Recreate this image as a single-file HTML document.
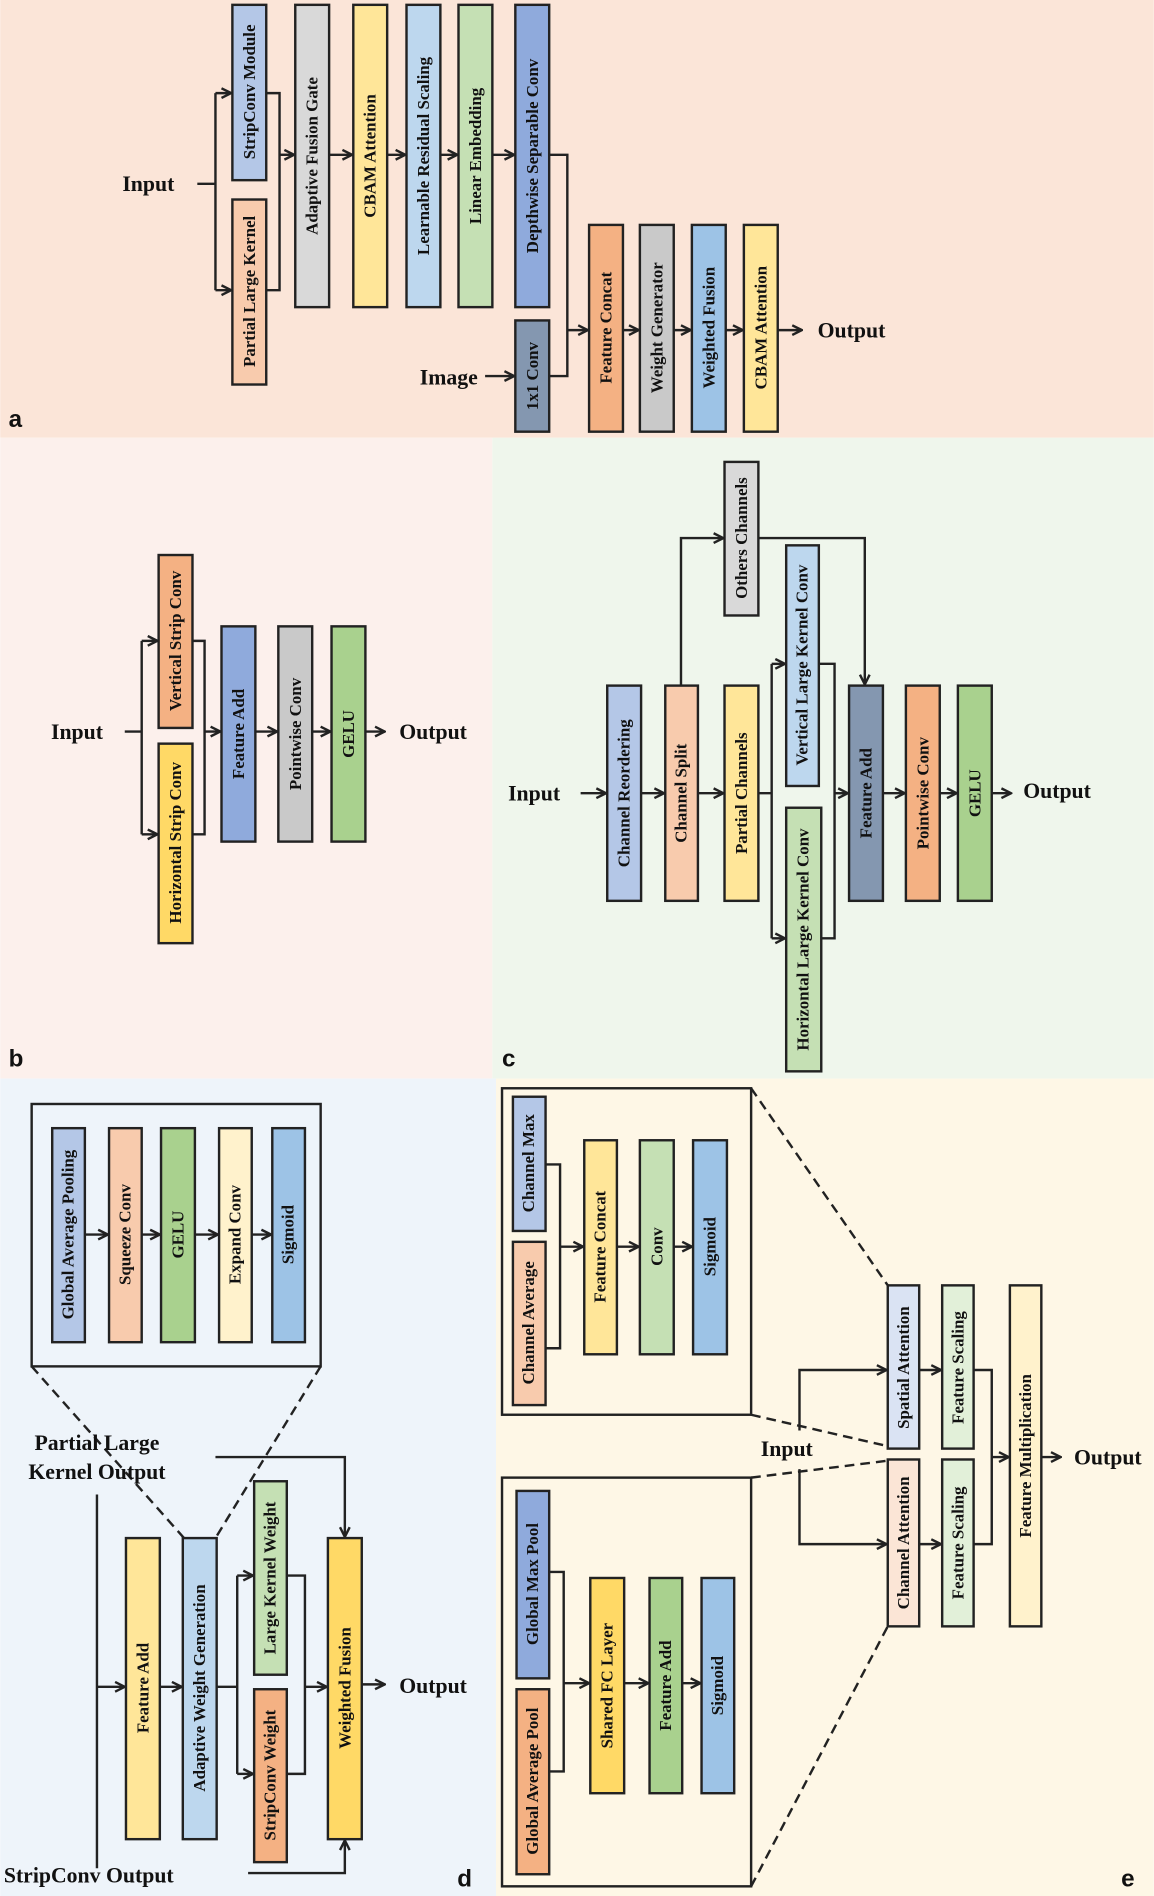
<!DOCTYPE html>
<html><head><meta charset="utf-8"><style>
html,body{margin:0;padding:0;}
svg{display:block;}
text{font-family:"Liberation Serif",serif;font-weight:bold;fill:#111;}
.b{font-size:14px;}
.t{font-size:18px;}
.lab{font-family:"Liberation Sans",sans-serif;font-size:20px;}
rect.x{stroke:#222;stroke-width:2;}
.l{fill:none;stroke:#222;stroke-width:2;}
.d{fill:none;stroke:#222;stroke-width:2;stroke-dasharray:8,5;}
</style></head><body>
<svg width="1154" height="1896" viewBox="0 0 954 1568" xmlns="http://www.w3.org/2000/svg">
<defs><marker id="a" markerWidth="10" markerHeight="10" refX="9" refY="5" orient="auto" markerUnits="userSpaceOnUse"><path d="M1,1 L9,5 L1,9" fill="none" stroke="#222" stroke-width="2"/></marker></defs>
<rect x="0" y="0" width="954" height="362" fill="#fbe5d8"/>
<rect x="0" y="362" width="407" height="530" fill="#fcf0ec"/>
<rect x="407" y="362" width="547" height="530" fill="#eff6ec"/>
<rect x="0" y="892" width="410" height="676" fill="#eef4fa"/>
<rect x="410" y="892" width="544" height="676" fill="#fef7e6"/>

<!-- Panel a -->
<g>
<rect class="x" x="192" y="4" width="28" height="145" fill="#b4c7e7"/><text class="b" transform="translate(206,76) rotate(-90)" text-anchor="middle" dominant-baseline="central">StripConv Module</text>
<rect class="x" x="192" y="165" width="28" height="153" fill="#f8cbad"/><text class="b" transform="translate(206,241) rotate(-90)" text-anchor="middle" dominant-baseline="central">Partial Large Kernel</text>
<rect class="x" x="244" y="4" width="28" height="250" fill="#d9d9d9"/><text class="b" transform="translate(258,129) rotate(-90)" text-anchor="middle" dominant-baseline="central">Adaptive Fusion Gate</text>
<rect class="x" x="292" y="4" width="28" height="250" fill="#ffe699"/><text class="b" transform="translate(306,129) rotate(-90)" text-anchor="middle" dominant-baseline="central">CBAM  Attention</text>
<rect class="x" x="336" y="4" width="28" height="250" fill="#bdd7ee"/><text class="b" transform="translate(350,129) rotate(-90)" text-anchor="middle" dominant-baseline="central">Learnable Residual Scaling</text>
<rect class="x" x="379" y="4" width="28" height="250" fill="#c5e0b4"/><text class="b" transform="translate(393,129) rotate(-90)" text-anchor="middle" dominant-baseline="central">Linear Embedding</text>
<rect class="x" x="426" y="4" width="28" height="250" fill="#8faadc"/><text class="b" transform="translate(440,129) rotate(-90)" text-anchor="middle" dominant-baseline="central">Depthwise Separable Conv</text>
<rect class="x" x="426" y="265" width="28" height="92" fill="#8497b0"/><text class="b" transform="translate(440,311) rotate(-90)" text-anchor="middle" dominant-baseline="central">1x1 Conv</text>
<rect class="x" x="487" y="186" width="28" height="171" fill="#f4b183"/><text class="b" transform="translate(501,271) rotate(-90)" text-anchor="middle" dominant-baseline="central">Feature Concat</text>
<rect class="x" x="529" y="186" width="28" height="171" fill="#c9c9c9"/><text class="b" transform="translate(543,271) rotate(-90)" text-anchor="middle" dominant-baseline="central">Weight Generator</text>
<rect class="x" x="572" y="186" width="28" height="171" fill="#9dc3e6"/><text class="b" transform="translate(586,271) rotate(-90)" text-anchor="middle" dominant-baseline="central">Weighted Fusion</text>
<rect class="x" x="615" y="186" width="28" height="171" fill="#ffe699"/><text class="b" transform="translate(629,271) rotate(-90)" text-anchor="middle" dominant-baseline="central">CBAM  Attention</text>
<text class="t" x="101" y="158">Input</text>
<path class="l" d="M163,152 H178 M178,77 V240"/>
<path class="l" marker-end="url(#a)" d="M178,77 H191"/>
<path class="l" marker-end="url(#a)" d="M178,240 H191"/>
<path class="l" d="M220,77 H231 V240 H220"/>
<path class="l" marker-end="url(#a)" d="M231,128 H243"/>
<path class="l" marker-end="url(#a)" d="M272,128 H291"/>
<path class="l" marker-end="url(#a)" d="M320,128 H335"/>
<path class="l" marker-end="url(#a)" d="M364,128 H378"/>
<path class="l" marker-end="url(#a)" d="M407,128 H425"/>
<path class="l" d="M454,128 H469 V311 H454"/>
<path class="l" marker-end="url(#a)" d="M469,273 H486"/>
<path class="l" marker-end="url(#a)" d="M515,273 H528"/>
<path class="l" marker-end="url(#a)" d="M557,273 H571"/>
<path class="l" marker-end="url(#a)" d="M600,273 H614"/>
<path class="l" marker-end="url(#a)" d="M643,273 H663"/>
<text class="t" x="676" y="279">Output</text>
<text class="t" x="347" y="318">Image</text>
<path class="l" marker-end="url(#a)" d="M401,311 H425"/>
<text class="lab" x="7" y="353">a</text>
</g>

<!-- Panel b -->
<g>
<rect class="x" x="131" y="459" width="28" height="143" fill="#f4b183"/><text class="b" transform="translate(145,530) rotate(-90)" text-anchor="middle" dominant-baseline="central">Vertical Strip Conv</text>
<rect class="x" x="131" y="615" width="28" height="165" fill="#ffd966"/><text class="b" transform="translate(145,697) rotate(-90)" text-anchor="middle" dominant-baseline="central">Horizontal Strip Conv</text>
<rect class="x" x="183" y="518" width="28" height="178" fill="#8faadc"/><text class="b" transform="translate(197,607) rotate(-90)" text-anchor="middle" dominant-baseline="central">Feature Add</text>
<rect class="x" x="230" y="518" width="28" height="178" fill="#c9c9c9"/><text class="b" transform="translate(244,607) rotate(-90)" text-anchor="middle" dominant-baseline="central">Pointwise Conv</text>
<rect class="x" x="274" y="518" width="28" height="178" fill="#a9d18e"/><text class="b" transform="translate(288,607) rotate(-90)" text-anchor="middle" dominant-baseline="central">GELU</text>
<text class="t" x="42" y="611">Input</text>
<path class="l" d="M103,605 H117 M117,530 V690"/>
<path class="l" marker-end="url(#a)" d="M117,530 H130"/>
<path class="l" marker-end="url(#a)" d="M117,690 H130"/>
<path class="l" d="M159,530 H169 V690 H159"/>
<path class="l" marker-end="url(#a)" d="M169,605 H182"/>
<path class="l" marker-end="url(#a)" d="M211,605 H229"/>
<path class="l" marker-end="url(#a)" d="M258,605 H273"/>
<path class="l" marker-end="url(#a)" d="M302,605 H318"/>
<text class="t" x="330" y="611">Output</text>
<text class="lab" x="7" y="882">b</text>
</g>

<!-- Panel c -->
<g>
<rect class="x" x="502" y="567" width="28" height="178" fill="#b4c7e7"/><text class="b" transform="translate(516,656) rotate(-90)" text-anchor="middle" dominant-baseline="central">Channel Reordering</text>
<rect class="x" x="550" y="567" width="27" height="178" fill="#f8cbad"/><text class="b" transform="translate(563,656) rotate(-90)" text-anchor="middle" dominant-baseline="central">Channel Split</text>
<rect class="x" x="599" y="567" width="28" height="178" fill="#ffe699"/><text class="b" transform="translate(613,656) rotate(-90)" text-anchor="middle" dominant-baseline="central">Partial Channels</text>
<rect class="x" x="599" y="382" width="28" height="127" fill="#d9d9d9"/><text class="b" transform="translate(613,445) rotate(-90)" text-anchor="middle" dominant-baseline="central">Others Channels</text>
<rect class="x" x="650" y="451" width="27" height="199" fill="#bdd7ee"/><text class="b" transform="translate(663,550) rotate(-90)" text-anchor="middle" dominant-baseline="central">Vertical Large Kernel Conv</text>
<rect class="x" x="650" y="668" width="29" height="218" fill="#c5e0b4"/><text class="b" transform="translate(664,777) rotate(-90)" text-anchor="middle" dominant-baseline="central">Horizontal Large Kernel Conv</text>
<rect class="x" x="702" y="567" width="28" height="178" fill="#8497b0"/><text class="b" transform="translate(716,656) rotate(-90)" text-anchor="middle" dominant-baseline="central">Feature Add</text>
<rect class="x" x="749" y="567" width="28" height="178" fill="#f4b183"/><text class="b" transform="translate(763,656) rotate(-90)" text-anchor="middle" dominant-baseline="central">Pointwise Conv</text>
<rect class="x" x="792" y="567" width="28" height="178" fill="#a9d18e"/><text class="b" transform="translate(806,656) rotate(-90)" text-anchor="middle" dominant-baseline="central">GELU</text>
<text class="t" x="420" y="662">Input</text>
<path class="l" marker-end="url(#a)" d="M480,656 H501"/>
<path class="l" marker-end="url(#a)" d="M530,656 H549"/>
<path class="l" marker-end="url(#a)" d="M577,656 H598"/>
<path class="l" marker-end="url(#a)" d="M563,567 V445 H598"/>
<path class="l" marker-end="url(#a)" d="M627,445 H715 V566"/>
<path class="l" d="M627,656 H638 M638,549 V776"/>
<path class="l" marker-end="url(#a)" d="M638,549 H649"/>
<path class="l" marker-end="url(#a)" d="M638,776 H649"/>
<path class="l" d="M677,549 H690 V776 H679"/>
<path class="l" marker-end="url(#a)" d="M690,656 H701"/>
<path class="l" marker-end="url(#a)" d="M730,656 H748"/>
<path class="l" marker-end="url(#a)" d="M777,656 H791"/>
<path class="l" marker-end="url(#a)" d="M820,656 H836"/>
<text class="t" x="846" y="660">Output</text>
<text class="lab" x="415" y="882">c</text>
</g>

<!-- Panel d -->
<g>
<rect x="26" y="913" width="239" height="217" fill="none" stroke="#222" stroke-width="2"/>
<rect class="x" x="43" y="933" width="27" height="177" fill="#b4c7e7"/><text class="b" transform="translate(56,1021) rotate(-90)" text-anchor="middle" dominant-baseline="central">Global Average Pooling</text>
<rect class="x" x="90" y="933" width="27" height="177" fill="#f8cbad"/><text class="b" transform="translate(103,1021) rotate(-90)" text-anchor="middle" dominant-baseline="central">Squeeze Conv</text>
<rect class="x" x="133" y="933" width="28" height="177" fill="#a9d18e"/><text class="b" transform="translate(147,1021) rotate(-90)" text-anchor="middle" dominant-baseline="central">GELU</text>
<rect class="x" x="181" y="933" width="27" height="177" fill="#fff2cc"/><text class="b" transform="translate(194,1021) rotate(-90)" text-anchor="middle" dominant-baseline="central">Expand Conv</text>
<rect class="x" x="225" y="933" width="27" height="177" fill="#9dc3e6"/><text class="b" transform="translate(238,1021) rotate(-90)" text-anchor="middle" dominant-baseline="central">Sigmoid</text>
<path class="l" marker-end="url(#a)" d="M70,1021 H89"/>
<path class="l" marker-end="url(#a)" d="M117,1021 H132"/>
<path class="l" marker-end="url(#a)" d="M161,1021 H180"/>
<path class="l" marker-end="url(#a)" d="M208,1021 H224"/>
<path class="d" d="M26,1130 L152,1272 M265,1130 L178,1272"/>
<text class="t" x="80" y="1199" text-anchor="middle">Partial Large</text>
<text class="t" x="80" y="1223" text-anchor="middle">Kernel Output</text>
<path class="l" d="M80,1236 V1545"/>
<path class="l" marker-end="url(#a)" d="M80,1395 H103"/>
<rect class="x" x="104" y="1272" width="28" height="249" fill="#ffe699"/><text class="b" transform="translate(118,1396) rotate(-90)" text-anchor="middle" dominant-baseline="central">Feature Add</text>
<rect class="x" x="151" y="1272" width="28" height="249" fill="#bdd7ee"/><text class="b" transform="translate(165,1396) rotate(-90)" text-anchor="middle" dominant-baseline="central">Adaptive Weight Generation</text>
<path class="l" marker-end="url(#a)" d="M132,1395 H150"/>
<rect class="x" x="210" y="1225" width="27" height="160" fill="#c5e0b4"/><text class="b" transform="translate(223,1305) rotate(-90)" text-anchor="middle" dominant-baseline="central">Large Kernel Weight</text>
<rect class="x" x="210" y="1397" width="27" height="143" fill="#f4b183"/><text class="b" transform="translate(223,1468) rotate(-90)" text-anchor="middle" dominant-baseline="central">StripConv Weight</text>
<path class="l" d="M179,1395 H196 M196,1303 V1467"/>
<path class="l" marker-end="url(#a)" d="M196,1303 H209"/>
<path class="l" marker-end="url(#a)" d="M196,1467 H209"/>
<path class="l" d="M237,1303 H252 V1467 H237"/>
<path class="l" marker-end="url(#a)" d="M252,1395 H270"/>
<rect class="x" x="271" y="1272" width="28" height="249" fill="#ffd966"/><text class="b" transform="translate(285,1396) rotate(-90)" text-anchor="middle" dominant-baseline="central">Weighted Fusion</text>
<path class="l" marker-end="url(#a)" d="M178,1205 H285 V1271"/>
<path class="l" marker-end="url(#a)" d="M205,1549 H285 V1522"/>
<path class="l" marker-end="url(#a)" d="M299,1393 H318"/>
<text class="t" x="330" y="1400">Output</text>
<text class="t" x="3" y="1557">StripConv Output</text>
<text class="lab" x="378" y="1560">d</text>
</g>

<!-- Panel e -->
<g>
<rect x="415" y="900" width="206" height="270" fill="none" stroke="#222" stroke-width="2"/>
<rect class="x" x="424" y="907" width="27" height="111" fill="#b4c7e7"/><text class="b" transform="translate(437,962) rotate(-90)" text-anchor="middle" dominant-baseline="central">Channel Max</text>
<rect class="x" x="424" y="1027" width="27" height="135" fill="#f8cbad"/><text class="b" transform="translate(437,1094) rotate(-90)" text-anchor="middle" dominant-baseline="central">Channel Average</text>
<path class="l" d="M451,963 H463 V1115 H451"/>
<path class="l" marker-end="url(#a)" d="M463,1031 H482"/>
<rect class="x" x="483" y="943" width="27" height="177" fill="#ffe699"/><text class="b" transform="translate(496,1031) rotate(-90)" text-anchor="middle" dominant-baseline="central">Feature Concat</text>
<path class="l" marker-end="url(#a)" d="M510,1031 H528"/>
<rect class="x" x="529" y="943" width="28" height="177" fill="#c5e0b4"/><text class="b" transform="translate(543,1031) rotate(-90)" text-anchor="middle" dominant-baseline="central">Conv</text>
<path class="l" marker-end="url(#a)" d="M557,1031 H572"/>
<rect class="x" x="573" y="943" width="28" height="177" fill="#9dc3e6"/><text class="b" transform="translate(587,1031) rotate(-90)" text-anchor="middle" dominant-baseline="central">Sigmoid</text>

<rect x="415" y="1222" width="206" height="338" fill="none" stroke="#222" stroke-width="2"/>
<rect class="x" x="427" y="1233" width="27" height="155" fill="#8faadc"/><text class="b" transform="translate(440,1310) rotate(-90)" text-anchor="middle" dominant-baseline="central">Global Max Pool</text>
<rect class="x" x="427" y="1397" width="27" height="153" fill="#f4b183"/><text class="b" transform="translate(440,1473) rotate(-90)" text-anchor="middle" dominant-baseline="central">Global Average Pool</text>
<path class="l" d="M454,1300 H466 V1465 H454"/>
<path class="l" marker-end="url(#a)" d="M466,1392 H487"/>
<rect class="x" x="488" y="1305" width="28" height="178" fill="#ffd966"/><text class="b" transform="translate(502,1394) rotate(-90)" text-anchor="middle" dominant-baseline="central">Shared FC Layer</text>
<path class="l" marker-end="url(#a)" d="M516,1392 H536"/>
<rect class="x" x="537" y="1305" width="27" height="178" fill="#a9d18e"/><text class="b" transform="translate(550,1394) rotate(-90)" text-anchor="middle" dominant-baseline="central">Feature Add</text>
<path class="l" marker-end="url(#a)" d="M564,1392 H579"/>
<rect class="x" x="580" y="1305" width="27" height="178" fill="#9dc3e6"/><text class="b" transform="translate(593,1394) rotate(-90)" text-anchor="middle" dominant-baseline="central">Sigmoid</text>

<path class="d" d="M621,900 L734,1063 M621,1170 L734,1196 M621,1222 L734,1208 M621,1560 L734,1345"/>
<rect class="x" x="734" y="1063" width="26" height="135" fill="#dae3f3"/><text class="b" transform="translate(747,1131) rotate(-90)" text-anchor="middle" dominant-baseline="central">Spatial Attention</text>
<rect class="x" x="734" y="1207" width="26" height="138" fill="#fbe5d6"/><text class="b" transform="translate(747,1276) rotate(-90)" text-anchor="middle" dominant-baseline="central">Channel Attention</text>
<rect class="x" x="779" y="1063" width="26" height="135" fill="#e2f0d9"/><text class="b" transform="translate(792,1131) rotate(-90)" text-anchor="middle" dominant-baseline="central">Feature Scaling</text>
<rect class="x" x="779" y="1207" width="26" height="138" fill="#e2f0d9"/><text class="b" transform="translate(792,1276) rotate(-90)" text-anchor="middle" dominant-baseline="central">Feature Scaling</text>
<rect class="x" x="835" y="1063" width="26" height="282" fill="#fff2cc"/><text class="b" transform="translate(848,1204) rotate(-90)" text-anchor="middle" dominant-baseline="central">Feature Multiplication</text>
<text class="t" x="629" y="1204">Input</text>
<path class="l" marker-end="url(#a)" d="M661,1183 V1133 H733"/>
<path class="l" marker-end="url(#a)" d="M661,1215 V1277 H733"/>
<path class="l" marker-end="url(#a)" d="M760,1133 H778"/>
<path class="l" marker-end="url(#a)" d="M760,1277 H778"/>
<path class="l" d="M805,1133 H820 V1277 H805"/>
<path class="l" marker-end="url(#a)" d="M820,1205 H834"/>
<path class="l" marker-end="url(#a)" d="M861,1205 H877"/>
<text class="t" x="888" y="1211">Output</text>
<text class="lab" x="927" y="1560">e</text>
</g>
</svg>
</body></html>
